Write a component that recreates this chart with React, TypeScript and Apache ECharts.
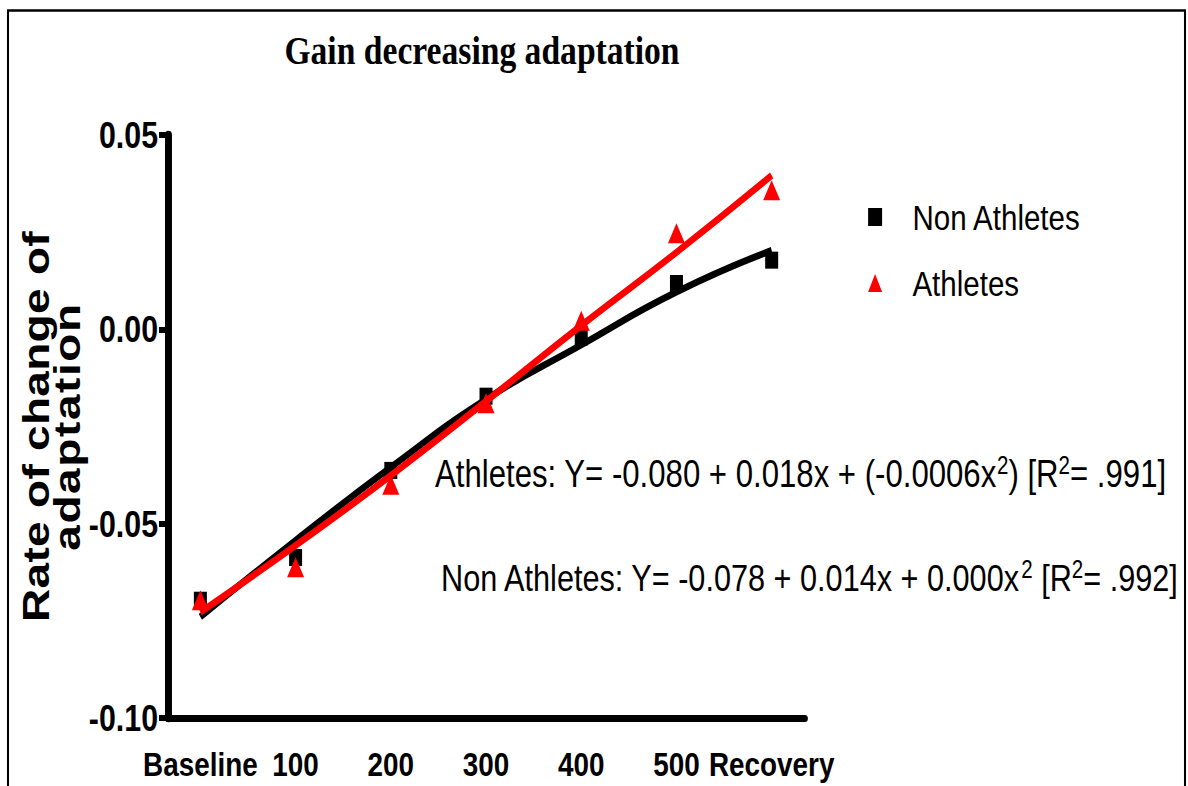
import React, { useEffect, useRef } from "react";
import * as echarts from "echarts";

const categories = ["Baseline", "100", "200", "300", "400", "500", "Recovery"];
const nonAthletes = [-0.0697, -0.0587, -0.0363, -0.0172, -0.002, 0.0118, 0.0178];
const athletes = [-0.0697, -0.0612, -0.04, -0.019, 0.0022, 0.0247, 0.0358];
const nonAthletesFit = [-0.074, -0.0543, -0.0355, -0.018, -0.004, 0.0096, 0.0203];
const athletesFit = [-0.0728, -0.0556, -0.0376, -0.0185, 0.001, 0.0198, 0.0396];

const titleText = "Gain decreasing adaptation";
const yAxisName = "Rate of change of\nadaptation";
const eqAthletes = "Athletes: Y= -0.080 + 0.018x + (-0.0006x{sup|2}) [R{sup|2}= .991]";
const eqNonAthletes = "Non Athletes: Y= -0.078 + 0.014x + 0.000x{sup|2} [R{sup|2}= .992]";

// the reference is horizontally condensed: draw on a wider canvas and squeeze it
const OUT_W = 1188;
const OUT_H = 786;
const INNER_W = 1449;
const S = OUT_W / INNER_W;
const px = (x: number) => x / S; // output x -> inner x

const SANS = "'Liberation Sans', Arial, sans-serif";
const SERIF = "'Liberation Serif', 'DejaVu Serif', serif";

export default function App() {
  const ref = useRef<HTMLDivElement>(null);
  useEffect(() => {
    if (!ref.current) return;
    const el = ref.current;
    const chart = echarts.init(el, undefined, { renderer: "svg" });
    const pts = (arr: number[]) => arr.map((v, i) => [i, v]);
    const eqStyle = (text: string, size: number) => ({
      text,
      fill: "#000",
      fontFamily: SANS,
      fontSize: size,
      lineHeight: 42,
      textAlign: "left",
      textVerticalAlign: "middle",
      align: "left",
      verticalAlign: "middle",
      rich: {
        sup: { fontSize: 25, fontFamily: SANS, fill: "#000", verticalAlign: "top", lineHeight: 25 },
      },
    });
    const spacing: Record<string, string> = { "Rate of change of": "0.3px", adaptation: "1.6px" };
    const applySpacing = () => {
      el.querySelectorAll("text").forEach((t) => {
        const k = (t.textContent || "").trim();
        if (spacing[k]) (t as SVGTextElement).style.letterSpacing = spacing[k];
      });
    };
    chart.on("finished", applySpacing);
    chart.setOption({
      animation: false,
      backgroundColor: "#fff",
      grid: {
        left: px(168),
        right: px(OUT_W - 805),
        top: 135,
        bottom: OUT_H - 718,
        containLabel: false,
        outerBoundsMode: "none",
      },
      legend: {
        orient: "vertical",
        left: px(864),
        top: 194,
        itemWidth: px(14),
        itemHeight: 18,
        itemGap: 30,
        data: [
          { name: "Non Athletes", icon: "rect" },
          { name: "Athletes", icon: "triangle" },
        ],
        textStyle: { fontFamily: SANS, fontSize: 36, color: "#000", padding: [0, 0, 0, 32], lineHeight: 36 },
      },
      xAxis: {
        type: "value",
        min: -0.34,
        max: 6.35,
        splitLine: { show: false },
        axisTick: { show: false },
        axisLine: { onZero: false, lineStyle: { color: "#000", width: 7, cap: "round" } },
        axisLabel: {
          customValues: categories.map((_, i) => i),
          formatter: (v: number) => categories[Math.round(v)] ?? "",
          showMinLabel: true,
          showMaxLabel: true,
          hideOverlap: false,
          fontFamily: SANS,
          fontWeight: "bold",
          fontSize: 34,
          color: "#000",
          margin: 30,
        },
      },
      yAxis: {
        type: "value",
        min: -0.1,
        max: 0.05,
        interval: 0.05,
        splitLine: { show: false },
        axisLine: { show: true, onZero: false, lineStyle: { color: "#000", width: 8.5, cap: "round" } },
        axisTick: { show: true, length: px(9), lineStyle: { color: "#000", width: 6 } },
        axisLabel: {
          formatter: (v: number) => v.toFixed(2),
          fontFamily: SANS,
          fontWeight: "bold",
          fontSize: 37,
          color: "#000",
          margin: px(10),
        },
        name: yAxisName,
        nameLocation: "middle",
        nameRotate: 90,
        nameGap: 104,
        nameMoveOverlap: false,
        nameTextStyle: {
          fontFamily: SANS,
          fontWeight: "bold",
          fontSize: 46,
          lineHeight: 38,
          color: "#000",
        },
      },
      graphic: [
        {
          type: "rect",
          shape: { x: px(8), y: 10.5, width: px(1185) - px(8), height: 800 },
          style: { fill: "none", stroke: "#000", lineWidth: 2.5 },
          silent: true,
        },
        {
          type: "text",
          x: px(482),
          y: 50,
          style: {
            text: titleText,
            fill: "#000",
            fontFamily: SERIF,
            fontSize: 41,
            fontWeight: "bold",
            textAlign: "center",
            textVerticalAlign: "middle",
            align: "center",
            verticalAlign: "middle",
          },
        },
        { type: "text", x: px(435), y: 474, style: eqStyle(eqAthletes, 38) },
        { type: "text", x: px(441), y: 578, style: eqStyle(eqNonAthletes, 37.4) },
      ],
      series: [
        {
          name: "Non Athletes",
          type: "scatter",
          symbol: "rect",
          symbolSize: [px(13), 17],
          itemStyle: { color: "#000", opacity: 1 },
          data: pts(nonAthletes),
          z: 2,
        },
        {
          name: "Non Athletes fit",
          type: "line",
          smooth: true,
          showSymbol: false,
          lineStyle: { color: "#000", width: 7 },
          itemStyle: { color: "#000" },
          data: pts(nonAthletesFit),
          z: 3,
        },
        {
          name: "Athletes",
          type: "scatter",
          symbol: "triangle",
          symbolSize: [px(17), 20],
          itemStyle: { color: "#ff0000", opacity: 1 },
          data: pts(athletes),
          z: 4,
        },
        {
          name: "Athletes fit",
          type: "line",
          smooth: true,
          showSymbol: false,
          lineStyle: { color: "#ff0000", width: 7 },
          itemStyle: { color: "#ff0000" },
          data: pts(athletesFit),
          z: 5,
        },
      ],
    });
    applySpacing();
    const raf = requestAnimationFrame(applySpacing);
    return () => {
      cancelAnimationFrame(raf);
      chart.dispose();
    };
  }, []);
  return (
    <div
      ref={ref}
      style={{
        position: "absolute",
        left: 0,
        top: 0,
        width: INNER_W,
        height: OUT_H,
        background: "#fff",
        transform: `scaleX(${S})`,
        transformOrigin: "0 0",
      }}
    />
  );
}
